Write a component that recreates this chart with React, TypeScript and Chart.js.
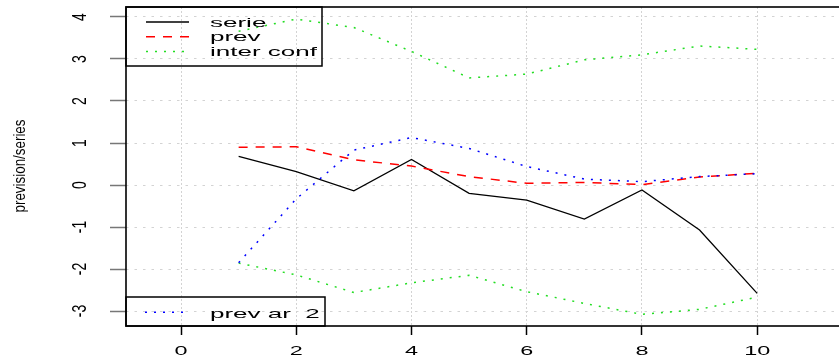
import React, { useEffect, useRef } from "react";
import { Chart, registerables } from "chart.js";

Chart.register(...registerables);

const xValues = [1, 2, 3, 4, 5, 6, 7, 8, 9, 10];
const serie = [0.68, 0.32, -0.14, 0.61, -0.2, -0.36, -0.81, -0.12, -1.07, -2.58];
const prev = [0.9, 0.91, 0.6, 0.45, 0.2, 0.04, 0.06, 0.01, 0.19, 0.28];
const interUpper = [3.66, 3.95, 3.75, 3.18, 2.55, 2.64, 2.98, 3.1, 3.31, 3.23];
const interLower = [-1.86, -2.14, -2.56, -2.33, -2.15, -2.54, -2.82, -3.08, -2.96, -2.67];
const prevAr2 = [-1.85, -0.33, 0.83, 1.13, 0.87, 0.44, 0.14, 0.08, 0.2, 0.27];

const xTickValues = [0, 2, 4, 6, 8, 10];
const yTickValues = [-3, -2, -1, 0, 1, 2, 3, 4];
const legendTop = ["serie", "prev", "inter conf"];
const legendBottom = "prev ar  2";
const yTitle = "prevision/series";

const FONT = "'Liberation Sans', Arial, Helvetica, sans-serif";

const toPoints = (ys: number[]) => xValues.map((x, i) => ({ x, y: ys[i] }));

function drawSample(ctx: CanvasRenderingContext2D, x1: number, x2: number, y: number, color: string, dash: number[], width: number) {
  ctx.save();
  ctx.strokeStyle = color;
  ctx.lineWidth = width;
  ctx.setLineDash(dash);
  ctx.beginPath();
  ctx.moveTo(x1, y);
  ctx.lineTo(x2, y);
  ctx.stroke();
  ctx.restore();
}

function drawText(ctx: CanvasRenderingContext2D, text: string, x: number, y: number, size: number, sx: number, align: CanvasTextAlign) {
  ctx.save();
  ctx.translate(x, y);
  ctx.scale(sx, 1);
  ctx.font = `${size}px ${FONT}`;
  ctx.fillStyle = "#000";
  ctx.textAlign = align;
  ctx.textBaseline = "alphabetic";
  ctx.fillText(text, 0, 0);
  ctx.restore();
}

function drawRotated(ctx: CanvasRenderingContext2D, text: string, x: number, y: number, size: number, sx: number) {
  ctx.save();
  ctx.translate(x, y);
  ctx.scale(sx, 1);
  ctx.rotate(-Math.PI / 2);
  ctx.font = `${size}px ${FONT}`;
  ctx.fillStyle = "#000";
  ctx.textAlign = "center";
  ctx.textBaseline = "alphabetic";
  ctx.fillText(text, 0, 0);
  ctx.restore();
}

const styles = {
  serie: { color: "#000000", dash: [] as number[], width: 1.3 },
  prev: { color: "#ff0000", dash: [9, 8], width: 1.5 },
  conf: { color: "#22dd22", dash: [2, 7], width: 1.5 },
  ar: { color: "#0000ff", dash: [2, 7], width: 1.5 },
};

const rPlugin = {
  id: "rstyle",
  afterDraw(chart: any) {
    const ctx: CanvasRenderingContext2D = chart.ctx;
    const ca = chart.chartArea;
    const xs = chart.scales.x;
    const ys = chart.scales.y;
    ctx.save();
    // plot box
    ctx.strokeStyle = "#000";
    ctx.lineWidth = 1.6;
    ctx.setLineDash([]);
    ctx.strokeRect(ca.left, ca.top, ca.right - ca.left + 20, ca.bottom - ca.top);

    // x tick labels
    xs.ticks.forEach((t: any) => {
      const px = xs.getPixelForValue(t.value);
      drawText(ctx, String(t.value), px, 355, 12, 1.95, "center");
    });
    // y tick labels (rotated, R style)
    ys.ticks.forEach((t: any) => {
      const py = ys.getPixelForValue(t.value);
      drawRotated(ctx, String(t.value), 78 + 0.358 * 14 * 1.5, py, 14, 1.5);
    });
    // y title
    drawRotated(ctx, yTitle, 24.5, 166, 13.4, 1.27);

    // top legend
    ctx.strokeStyle = "#000";
    ctx.lineWidth = 1.5;
    ctx.strokeRect(ca.left, ca.top, 322 - ca.left, 66 - ca.top);
    const lstyles = [styles.serie, styles.prev, styles.conf];
    const baselines = [26.5, 41.2, 55.9];
    legendTop.forEach((lab, i) => {
      const st = lstyles[i];
      drawSample(ctx, 146, 189, baselines[i] - 4.5, st.color, st.dash, st.width);
      drawText(ctx, lab, 210, baselines[i], 13, 2.0, "left");
    });

    // bottom legend
    ctx.strokeStyle = "#000";
    ctx.lineWidth = 1.5;
    ctx.strokeRect(ca.left, 297, 325 - ca.left, ca.bottom - 297);
    drawSample(ctx, 145, 184, 312.3, styles.ar.color, styles.ar.dash, styles.ar.width);
    drawText(ctx, legendBottom, 210, 318.3, 13, 2.0, "left");
    ctx.restore();
  },
};

export default function App() {
  const ref = useRef<HTMLCanvasElement | null>(null);
  useEffect(() => {
    if (!ref.current) return;
    const mk = (label: string, ys: number[], st: any, order: number) => ({
      label,
      data: toPoints(ys),
      borderColor: st.color,
      borderWidth: st.width,
      borderDash: st.dash,
      pointRadius: 0,
      tension: 0,
      fill: false,
      order,
    });
    const chart = new Chart(ref.current, {
      type: "line",
      data: {
        datasets: [
          mk("serie", serie, styles.serie, 4),
          mk("prev", prev, styles.prev, 3),
          mk("inter conf", interUpper, styles.conf, 2),
          mk("inter conf (inf)", interLower, styles.conf, 1),
          mk("prev ar  2", prevAr2, styles.ar, 0),
        ],
      },
      options: {
        animation: false,
        responsive: false,
        layout: { padding: { top: 7, left: 0, right: 0, bottom: 0 } },
        plugins: { legend: { display: false }, tooltip: { enabled: false } },
        scales: {
          x: {
            type: "linear",
            min: -0.955,
            max: 11.42,
            afterBuildTicks: (s: any) => {
              s.ticks = xTickValues.map((v) => ({ value: v }));
            },
            afterFit: (s: any) => {
              s.height = 32;
            },
            ticks: { display: false },
            grid: {
              color: "#d3d3d3",
              lineWidth: 1,
              drawTicks: true,
              tickLength: 9,
              tickColor: "#000",
              tickWidth: 1.5,
            },
            border: { display: false, dash: [2, 2] },
          },
          y: {
            type: "linear",
            min: -3.357,
            max: 4.238,
            afterBuildTicks: (s: any) => {
              s.ticks = yTickValues.map((v) => ({ value: v }));
            },
            afterFit: (s: any) => {
              s.width = 126;
            },
            ticks: { display: false },
            grid: {
              color: "#d3d3d3",
              lineWidth: 1,
              drawTicks: true,
              tickLength: 16,
              tickColor: "#777",
              tickWidth: 1.5,
            },
            border: { display: false, dash: [2.5, 6] },
          },
        },
      },
      plugins: [rPlugin],
    });
    return () => chart.destroy();
  }, []);
  return (
    <div style={{ position: "fixed", left: 0, top: 0, width: 839, height: 358, background: "#fff" }}>
      <canvas ref={ref} width={839} height={358} style={{ display: "block" }} />
    </div>
  );
}
